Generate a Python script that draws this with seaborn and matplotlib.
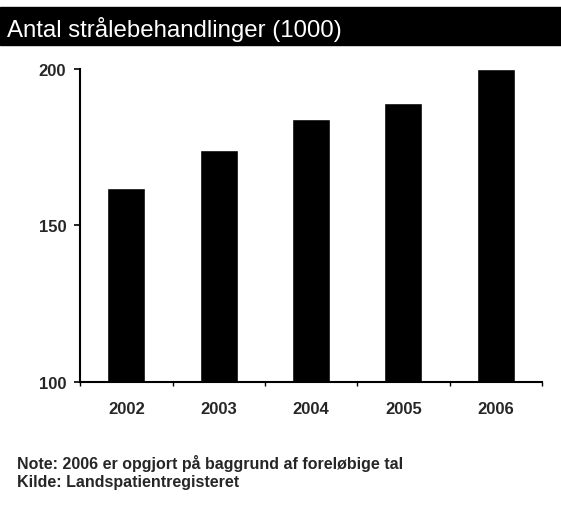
import matplotlib
matplotlib.use("Agg")
import pandas as pd
import matplotlib.pyplot as plt
import seaborn as sns

years = ["2002", "2003", "2004", "2005", "2006"]
values = [162, 174, 184, 189, 200]
title = "Antal strålebehandlinger (1000)"
note = "Note: 2006 er opgjort på baggrund af foreløbige tal"
source = "Kilde: Landspatientregisteret"

df = pd.DataFrame({"year": years, "value": values})

sns.set_style("white")
plt.rcParams["font.family"] = ["Liberation Sans", "DejaVu Sans"]

fig = plt.figure(figsize=(5.61, 5.06), dpi=100)
ax = fig.add_axes([0.143, 0.243, 0.823, 0.619])

sns.barplot(data=df, x="year", y="value", color="black", width=0.41,
            saturation=1, ax=ax)
ax.set_ylim(100, 200)
ax.set_xlim(-0.5, 4.5)
ax.set_yticks([100, 150, 200])
ax.set_xlabel("")
ax.set_ylabel("")
for s in ["top", "right"]:
    ax.spines[s].set_visible(False)
for s in ["left", "bottom"]:
    ax.spines[s].set_color("black")
    ax.spines[s].set_linewidth(1.5)
ax.tick_params(axis="y", left=True, length=4, width=1.2, color="black",
               labelsize=12, pad=6)
ax.tick_params(axis="x", bottom=False, labelsize=12, pad=10)
ax.set_xticks([-0.5, 0.5, 1.5, 2.5, 3.5, 4.5], minor=True)
ax.tick_params(axis="x", which="minor", bottom=True, length=3, width=1.0,
               color="black")
for lbl in ax.get_xticklabels() + ax.get_yticklabels():
    lbl.set_fontweight("bold")

# black title bar
fig.patches.append(plt.Rectangle((0.0, 1 - 46 / 506), 1.0, 38 / 506,
                                 transform=fig.transFigure, color="black",
                                 zorder=0))
fig.text(0.012, 1 - 29 / 506, title, color="white", fontsize=17.3,
         va="center", ha="left")

fig.text(0.03, 1 - 463 / 506, note, fontsize=11.5, fontweight="bold",
         va="center", ha="left")
fig.text(0.03, 1 - 482 / 506, source, fontsize=11.5, fontweight="bold",
         va="center", ha="left")

fig.savefig("out.png", dpi=100)
